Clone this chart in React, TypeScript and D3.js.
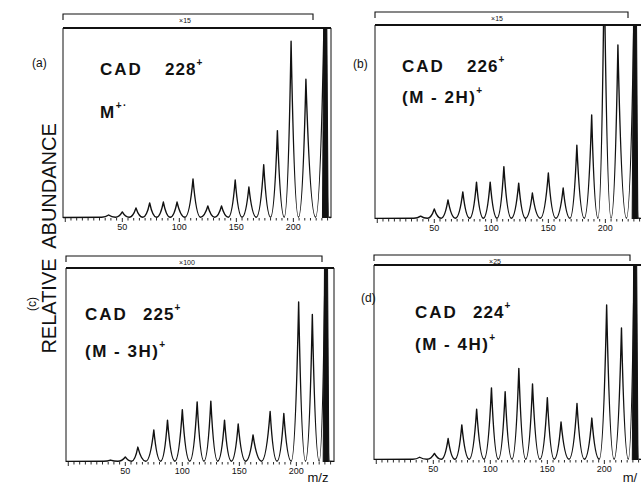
import React from 'react';
import * as d3 from 'd3';

// peak positions (m/z) and heights (% of frame height; >100 runs off the top)
const MZ_A = [38, 50, 62, 74, 86, 98, 112, 125, 137, 149, 161, 174, 186, 198, 211, 228];
const AB_A = [1.6, 3.2, 5.3, 7.9, 8.4, 8.4, 20.5, 6.3, 6.3, 20, 16.3, 28, 46, 93, 73, 140];

const MZ_B = [38, 50, 62, 75, 87, 99, 111, 124, 136, 150, 163, 175, 188, 199, 211, 226];
const AB_B = [1.5, 5.2, 9.8, 14, 19, 19, 27, 18.5, 13.4, 23.7, 16, 38, 53.6, 130, 89.7, 140];

const MZ_C = [37, 50, 61, 75, 87, 100, 113, 125, 137, 149, 162, 177, 189, 202, 214, 226];
const AB_C = [1, 2.6, 7.7, 16.5, 21.6, 27, 31, 31.4, 21.6, 19.6, 14, 26, 25, 82.5, 76, 140];

const MZ_D = [38, 51, 63, 75, 88, 101, 113, 125, 137, 150, 162, 176, 189, 202, 215, 227];
const AB_D = [1.4, 3.4, 11, 18, 26, 37, 35, 47, 39, 32, 19.5, 29, 21.5, 79.5, 67.7, 140];

const TICK_LABELS = [50, 100, 150, 200];
const MULTIPLIERS = ['×15', '×15', '×100', '×25'];
const PRECURSORS = ['228', '226', '225', '224'];
const IONS = ['M', '(M - 2H)', '(M - 3H)', '(M - 4H)'];
const ION_SUPS = ['+·', '+', '+', '+'];
const TAGS = ['(a)', '(b)', '(c)', '(d)'];

const SERIES = [
  { mz: MZ_A, ab: AB_A },
  { mz: MZ_B, ab: AB_B },
  { mz: MZ_C, ab: AB_C },
  { mz: MZ_D, ab: AB_D },
];

// frame geometry of each panel
const LAYOUT = [
  { left: 63, right: 331, top: 28, base: 218, bracketY: 14, bracketRight: 313, multX: 185, tagX: 32, tagY: 67, tagRot: false, cadX: 100, numX: 165, titleY: 75, ionY: 118 },
  { left: 375, right: 643, top: 25, base: 219, bracketY: 12, bracketRight: 628, multX: 497, tagX: 353, tagY: 68, tagRot: false, cadX: 402, numX: 467, titleY: 72, ionY: 103 },
  { left: 66, right: 334, top: 268, base: 462, bracketY: 256, bracketRight: 322, multX: 187, tagX: 36, tagY: 304, tagRot: true, cadX: 85, numX: 143, titleY: 320, ionY: 357 },
  { left: 374, right: 642, top: 265, base: 460, bracketY: 255, bracketRight: 630, multX: 495, tagX: 361, tagY: 302, tagRot: false, cadX: 415, numX: 473, titleY: 318, ionY: 350 },
];

const INK = '#111';
const LETTER = "'Liberation Sans', Arial, sans-serif";

function Panel({ i }: { i: number }) {
  const L = LAYOUT[i];
  const { mz, ab } = SERIES[i];
  const x = d3.scaleLinear().domain([-2, 233]).range([L.left, L.right]);
  const y = d3.scaleLinear().domain([0, 100]).range([L.base, L.top]);

  // trace: baseline, valley half way between neighbours, cusp-shaped rise to each apex
  const p = d3.path();
  p.moveTo(x(-2), y(0.3));
  mz.forEach((m, k) => {
    const prev = k === 0 ? m - 12 : mz[k - 1];
    const next = k === mz.length - 1 ? m + 3 : mz[k + 1];
    const v0 = (prev + m) / 2;
    const v1 = k === mz.length - 1 ? next : (m + next) / 2;
    p.lineTo(x(v0), y(0.4));
    p.quadraticCurveTo(x(v0 + (m - v0) * 0.55), y(0.4), x(m), y(ab[k]));
    p.quadraticCurveTo(x(m + (v1 - m) * 0.45), y(0.4), x(v1), y(0.4));
  });
  p.lineTo(x(233), y(0.3));

  const line = d3.line<[number, number]>().x(d => x(d[0])).y(d => y(d[1]));
  const n = mz.length - 1;
  const prec: [number, number][] = [
    [mz[n] - 2.5, 0], [mz[n] - 0.9, ab[n]], [mz[n] + 0.9, ab[n]], [mz[n] + 2.5, 0],
  ];

  const ticks = d3.range(0, 231, 5);
  const clipId = `clip-${i}`;

  return (
    <g>
      <defs>
        <clipPath id={clipId}>
          <rect x={L.left} y={L.top} width={L.right - L.left} height={L.base - L.top + 2} />
        </clipPath>
      </defs>
      {/* bracket with magnification */}
      <path
        d={`M${L.left},${L.bracketY + 6}V${L.bracketY}H${L.bracketRight}V${L.bracketY + 6}`}
        fill="none" stroke={INK} strokeWidth={1.1}
      />
      <text x={L.multX} y={L.bracketY + 9} fontSize={7} fontFamily={LETTER} textAnchor="middle" fill={INK}>
        {MULTIPLIERS[i]}
      </text>
      {/* frame */}
      <path
        d={`M${L.left},${L.base}V${L.top}H${L.right}V${L.base}`}
        fill="none" stroke={INK} strokeWidth={1}
      />
      <line x1={L.left} x2={L.right} y1={L.top} y2={L.top} stroke={INK} strokeWidth={2} />
      <g clipPath={`url(#${clipId})`}>
        <path d={p.toString()} fill="none" stroke={INK} strokeWidth={1.4} strokeLinejoin="round" />
        <path d={line(prec) || ''} fill={INK} stroke={INK} strokeWidth={1} />
      </g>
      {/* axis ticks along baseline */}
      {ticks.map(t => (
        <line key={t} x1={x(t)} x2={x(t)} y1={L.base} y2={L.base + (t % 50 === 0 ? 4 : 2.5)} stroke={INK} strokeWidth={0.9} />
      ))}
      {TICK_LABELS.map(t => (
        <text key={t} x={x(t)} y={L.base + 12} fontSize={9} fontFamily={LETTER} textAnchor="middle" fill={INK}>
          {t}
        </text>
      ))}
      {/* panel tag */}
      {L.tagRot ? (
        <text transform={`translate(${L.tagX},${L.tagY}) rotate(-90)`} fontSize={12} fontFamily={LETTER} textAnchor="middle" fill={INK}>
          {TAGS[i]}
        </text>
      ) : (
        <text x={L.tagX} y={L.tagY} fontSize={12} fontFamily={LETTER} fill={INK}>{TAGS[i]}</text>
      )}
      {/* CAD title */}
      <text x={L.cadX} y={L.titleY} fontSize={17} fontWeight="bold" fontFamily={LETTER} letterSpacing={2} fill={INK}>
        CAD
      </text>
      <text x={L.numX} y={L.titleY} fontSize={17} fontWeight="bold" fontFamily={LETTER} letterSpacing={1} fill={INK}>
        {PRECURSORS[i]}
        <tspan dy={-9} fontSize={10}>+</tspan>
      </text>
      <text x={L.cadX} y={L.ionY} fontSize={17} fontWeight="bold" fontFamily={LETTER} letterSpacing={1.5} fill={INK}>
        {IONS[i]}
        <tspan dy={-9} fontSize={10}>{ION_SUPS[i]}</tspan>
      </text>
    </g>
  );
}

export default function App() {
  return (
    <svg width={641} height={491} style={{ position: 'absolute', left: 0, top: 0, background: '#fff' }}>
      <rect width={641} height={491} fill="#fff" />
      {[0, 1, 2, 3].map(i => <Panel key={i} i={i} />)}
      <text transform="translate(56,186) rotate(-90)" fontSize={20} fontFamily={LETTER} textAnchor="middle" fill={INK}>
        ABUNDANCE
      </text>
      <text transform="translate(56,306) rotate(-90)" fontSize={20} fontFamily={LETTER} textAnchor="middle" fill={INK}>
        RELATIVE
      </text>
      <text x={318} y={482} fontSize={13} fontFamily={LETTER} textAnchor="middle" fill={INK}>m/z</text>
      <text x={630} y={482} fontSize={13} fontFamily={LETTER} textAnchor="middle" fill={INK}>m/</text>
    </svg>
  );
}
